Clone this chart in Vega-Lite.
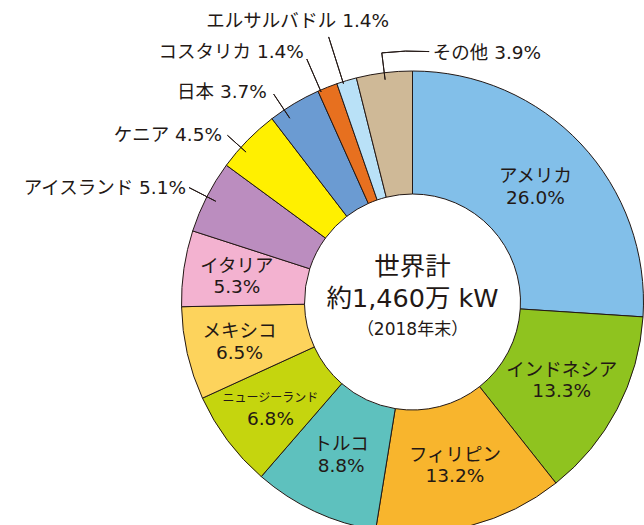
{
  "$schema": "https://vega.github.io/schema/vega-lite/v6.json",
  "width": 463,
  "height": 446,
  "autosize": "none",
  "padding": {"left": 181, "top": 79, "right": 0, "bottom": 0},
  "background": "white",
  "config": {"view": {"stroke": null}, "text": {"font": "DejaVu Sans, Noto Sans CJK JP", "fill": "#231815"}},
  "data": {"values": [
    {"order": 1, "country": "アメリカ", "value": 26.0},
    {"order": 2, "country": "インドネシア", "value": 13.3},
    {"order": 3, "country": "フィリピン", "value": 13.2},
    {"order": 4, "country": "トルコ", "value": 8.8},
    {"order": 5, "country": "ニュージーランド", "value": 6.8},
    {"order": 6, "country": "メキシコ", "value": 6.5},
    {"order": 7, "country": "イタリア", "value": 5.3},
    {"order": 8, "country": "アイスランド", "value": 5.1},
    {"order": 9, "country": "ケニア", "value": 4.5},
    {"order": 10, "country": "日本", "value": 3.7},
    {"order": 11, "country": "コスタリカ", "value": 1.4},
    {"order": 12, "country": "エルサルバドル", "value": 1.4},
    {"order": 13, "country": "その他", "value": 3.9}
  ]},
  "transform": [
    {"stack": "value", "groupby": [], "sort": [{"field": "order", "order": "ascending"}], "as": ["s0", "s1"]},
    {"fold": ["s0", "s1"], "as": ["edge", "angle"]},
    {"joinaggregate": [{"op": "mean", "field": "angle", "as": "mid"}], "groupby": ["country"]},
    {"filter": "datum.edge === 's0'"}
  ],
  "layer": [
    {
      "mark": {"type": "arc", "outerRadius": 231, "innerRadius": 108, "stroke": "#231815", "strokeWidth": 1},
      "encoding": {
        "theta": {"field": "s0", "type": "quantitative", "scale": {"domain": [0, 99.9]}},
        "theta2": {"field": "s1"},
        "color": {
          "field": "country", "type": "nominal", "legend": null,
          "scale": {
            "domain": ["アメリカ", "インドネシア", "フィリピン", "トルコ", "ニュージーランド", "メキシコ", "イタリア", "アイスランド", "ケニア", "日本", "コスタリカ", "エルサルバドル", "その他"],
            "range": ["#82bfe9", "#8fc31f", "#f8b52d", "#5ec1be", "#c5d50e", "#fdd35c", "#f3b2d0", "#bb8dbf", "#fff000", "#6b9bd2", "#e7701f", "#b9e1f7", "#cfb997"]
          }
        }
      }
    },
    {
      "transform": [{"filter": "datum.country === 'アイスランド'"}],
      "mark": {"type": "arc", "outerRadius": 251, "innerRadius": 221, "stroke": "#231815", "strokeWidth": 1, "fillOpacity": 0},
      "encoding": {"theta": {"field": "mid", "type": "quantitative"}, "theta2": {"field": "mid"}}
    },
    {
      "transform": [{"filter": "datum.country === 'ケニア'"}],
      "mark": {"type": "arc", "outerRadius": 249, "innerRadius": 224, "thetaOffset": -0.042, "theta2Offset": -0.042, "stroke": "#231815", "strokeWidth": 1, "fillOpacity": 0},
      "encoding": {"theta": {"field": "mid", "type": "quantitative"}, "theta2": {"field": "mid"}}
    },
    {
      "transform": [{"filter": "datum.country === '日本'"}],
      "mark": {"type": "arc", "outerRadius": 250, "innerRadius": 221, "thetaOffset": -0.051, "theta2Offset": -0.051, "stroke": "#231815", "strokeWidth": 1, "fillOpacity": 0},
      "encoding": {"theta": {"field": "mid", "type": "quantitative"}, "theta2": {"field": "mid"}}
    },
    {
      "transform": [{"filter": "datum.country === 'コスタリカ'"}],
      "mark": {"type": "arc", "outerRadius": 265, "innerRadius": 229, "thetaOffset": -0.033, "theta2Offset": -0.033, "stroke": "#231815", "strokeWidth": 1, "fillOpacity": 0},
      "encoding": {"theta": {"field": "mid", "type": "quantitative"}, "theta2": {"field": "mid"}}
    },
    {
      "transform": [{"filter": "datum.country === 'エルサルバドル'"}],
      "mark": {"type": "arc", "outerRadius": 278, "innerRadius": 229, "thetaOffset": -0.017, "theta2Offset": -0.017, "stroke": "#231815", "strokeWidth": 1, "fillOpacity": 0},
      "encoding": {"theta": {"field": "mid", "type": "quantitative"}, "theta2": {"field": "mid"}}
    },
    {
      "transform": [{"filter": "datum.country === 'その他'"}],
      "mark": {"type": "arc", "outerRadius": 251, "innerRadius": 224, "stroke": "#231815", "strokeWidth": 1, "fillOpacity": 0},
      "encoding": {"theta": {"field": "mid", "type": "quantitative"}, "theta2": {"field": "mid"}}
    },
    {
      "transform": [{"filter": "datum.country === 'その他'"}],
      "mark": {"type": "arc", "outerRadius": 251, "innerRadius": 251, "theta2Offset": 0.189, "stroke": "#231815", "strokeWidth": 1, "fillOpacity": 0},
      "encoding": {"theta": {"field": "mid", "type": "quantitative"}, "theta2": {"field": "mid"}}
    },
    {
      "transform": [{"filter": "datum.order <= 4"}],
      "mark": {"type": "text", "radius": 168.5, "dy": -10.5, "fontSize": 18.5, "align": "center", "baseline": "middle", "text": {"expr": "datum.country"}},
      "encoding": {"theta": {"field": "mid", "type": "quantitative"}}
    },
    {
      "transform": [{"filter": "datum.order <= 4"}],
      "mark": {"type": "text", "radius": 168.5, "dy": 11, "fontSize": 18.5, "align": "center", "baseline": "middle", "text": {"expr": "format(datum.value, '.1f') + '%'"}},
      "encoding": {"theta": {"field": "mid", "type": "quantitative"}}
    },
    {
      "transform": [{"filter": "datum.order >= 5 && datum.order <= 7"}],
      "mark": {"type": "text", "radius": 177.5, "dy": -10.5, "align": "center", "baseline": "middle", "text": {"expr": "datum.country"}},
      "encoding": {
        "theta": {"field": "mid", "type": "quantitative"},
        "size": {"condition": {"test": "datum.country === 'ニュージーランド'", "value": 12}, "value": 18.5}
      }
    },
    {
      "transform": [{"filter": "datum.order >= 5 && datum.order <= 7"}],
      "mark": {"type": "text", "radius": 177.5, "dy": 11, "fontSize": 18.5, "align": "center", "baseline": "middle", "text": {"expr": "format(datum.value, '.1f') + '%'"}},
      "encoding": {"theta": {"field": "mid", "type": "quantitative"}}
    },
    {
      "transform": [{"filter": "datum.country === 'アイスランド'"}],
      "mark": {"type": "text", "radius": 251, "dx": -3, "dy": 0, "fontSize": 18.5, "align": "right", "baseline": "middle", "text": {"expr": "datum.country + ' ' + format(datum.value, '.1f') + '%'"}},
      "encoding": {"theta": {"field": "mid", "type": "quantitative"}}
    },
    {
      "transform": [{"filter": "datum.country === 'ケニア'"}],
      "mark": {"type": "text", "radius": 249, "dx": -12.6, "dy": 7.7, "fontSize": 18.5, "align": "right", "baseline": "middle", "text": {"expr": "datum.country + ' ' + format(datum.value, '.1f') + '%'"}},
      "encoding": {"theta": {"field": "mid", "type": "quantitative"}}
    },
    {
      "transform": [{"filter": "datum.country === '日本'"}],
      "mark": {"type": "text", "radius": 250, "dx": -17.5, "dy": 5.2, "fontSize": 18.5, "align": "right", "baseline": "middle", "text": {"expr": "datum.country + ' ' + format(datum.value, '.1f') + '%'"}},
      "encoding": {"theta": {"field": "mid", "type": "quantitative"}}
    },
    {
      "transform": [{"filter": "datum.country === 'コスタリカ'"}],
      "mark": {"type": "text", "radius": 265, "dx": -10.9, "dy": -3.2, "fontSize": 18.5, "align": "right", "baseline": "middle", "text": {"expr": "datum.country + ' ' + format(datum.value, '.1f') + '%'"}},
      "encoding": {"theta": {"field": "mid", "type": "quantitative"}}
    },
    {
      "transform": [{"filter": "datum.country === 'エルサルバドル'"}],
      "mark": {"type": "text", "radius": 278, "dx": 56, "dy": -15, "fontSize": 18.5, "align": "right", "baseline": "middle", "text": {"expr": "datum.country + ' ' + format(datum.value, '.1f') + '%'"}},
      "encoding": {"theta": {"field": "mid", "type": "quantitative"}}
    },
    {
      "transform": [{"filter": "datum.country === 'その他'"}],
      "mark": {"type": "text", "radius": 251, "dx": 51, "dy": 0, "fontSize": 18.5, "align": "left", "baseline": "middle", "text": {"expr": "datum.country + ' ' + format(datum.value, '.1f') + '%'"}},
      "encoding": {"theta": {"field": "mid", "type": "quantitative"}}
    },
    {
      "transform": [{"filter": "datum.order === 1"}],
      "mark": {"type": "text", "text": "世界計", "fontSize": 25.5, "dy": -35, "align": "center", "baseline": "middle"},
      "encoding": {}
    },
    {
      "transform": [{"filter": "datum.order === 1"}],
      "mark": {"type": "text", "text": "約1,460万 kW", "fontSize": 25.5, "dy": -3, "align": "center", "baseline": "middle"},
      "encoding": {}
    },
    {
      "transform": [{"filter": "datum.order === 1"}],
      "mark": {"type": "text", "text": "（2018年末）", "fontSize": 17, "dy": 28, "align": "center", "baseline": "middle"},
      "encoding": {}
    }
  ]
}
